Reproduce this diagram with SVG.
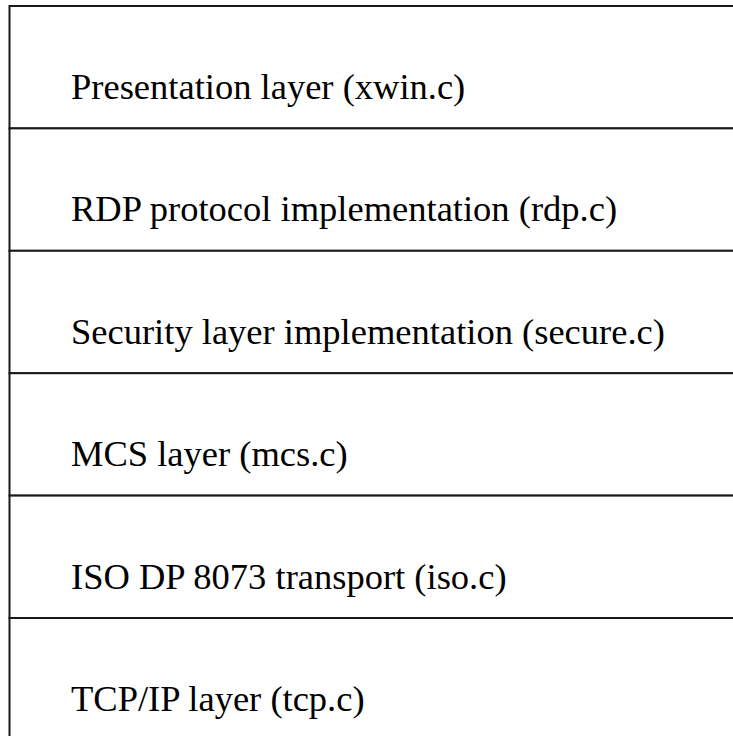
<svg xmlns="http://www.w3.org/2000/svg" width="733" height="736" viewBox="0 0 733 736">
<style>
.box{fill:#fff;stroke:#1a1a1a;stroke-width:2}
.lbl{font-family:"Liberation Serif","Times New Roman",serif;font-size:36.5px;fill:#000}
</style>
<rect width="733" height="736" fill="#fff"/>
<g id="presentation"><rect class="box" x="9.5" y="6" width="740" height="122.4"/><text class="lbl" x="71" y="99">Presentation layer (xwin.c)</text></g>
<g id="rdp"><rect class="box" x="9.5" y="128.4" width="740" height="122.4"/><text class="lbl" x="71" y="221.4">RDP protocol implementation (rdp.c)</text></g>
<g id="secure"><rect class="box" x="9.5" y="250.8" width="740" height="122.4"/><text class="lbl" x="71" y="343.8">Security layer implementation (secure.c)</text></g>
<g id="mcs"><rect class="box" x="9.5" y="373.2" width="740" height="122.4"/><text class="lbl" x="71" y="466.2">MCS layer (mcs.c)</text></g>
<g id="iso"><rect class="box" x="9.5" y="495.6" width="740" height="122.4"/><text class="lbl" x="71" y="588.6">ISO DP 8073 transport (iso.c)</text></g>
<g id="tcp"><rect class="box" x="9.5" y="618" width="740" height="122.4"/><text class="lbl" x="71" y="711">TCP/IP layer (tcp.c)</text></g>
<g id="connectors"></g>
</svg>
